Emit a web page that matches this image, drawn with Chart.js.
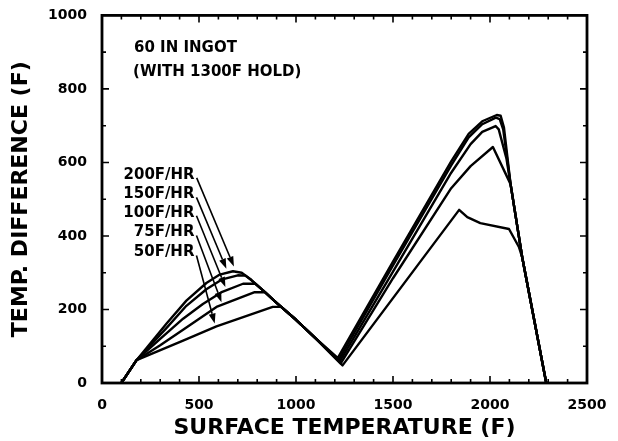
<!DOCTYPE html>
<html>
<head>
<meta charset="utf-8">
<script src="https://cdn.jsdelivr.net/npm/chart.js@4/dist/chart.umd.min.js"></script>
<style>
  body { margin: 0; background: #fff; }
  #tempChart { display: block; }
</style>
</head>
<body>
<canvas id="tempChart" width="618" height="441"></canvas>
<script>
// values: surface temperature (F) vs temp. difference (F)
const rate200Temp = [100, 178, 333, 435, 538, 607, 675, 720, 770, 830, 900, 1000, 1100, 1215, 1500, 1800, 1890, 1960, 2035, 2055, 2072, 2106, 2166, 2290];
const rate200Diff = [0, 62, 162, 224, 272, 295, 304, 300, 280, 252, 218, 172, 122, 68, 330, 603, 678, 712, 729, 727, 695, 541, 342, 0];

const rate150Temp = [100, 178, 333, 435, 538, 620, 700, 740, 770, 830, 900, 1000, 1100, 1220, 1500, 1800, 1890, 1960, 2030, 2050, 2068, 2106, 2166, 2290];
const rate150Diff = [0, 62, 150, 210, 255, 282, 293, 292, 280, 252, 218, 172, 122, 63, 320, 592, 668, 704, 722, 718, 690, 541, 342, 0];

const rate100Temp = [100, 178, 300, 418, 520, 620, 727, 790, 830, 900, 1000, 1100, 1225, 1500, 1800, 1900, 1960, 2029, 2045, 2085, 2106, 2166, 2290];
const rate100Diff = [0, 62, 120, 175, 215, 248, 270, 270, 252, 218, 172, 122, 58, 303, 572, 650, 683, 699, 690, 610, 541, 342, 0];

const rate75Temp = [100, 178, 300, 418, 590, 787, 840, 900, 1000, 1100, 1230, 1500, 1800, 1900, 2015, 2106, 2166, 2290];
const rate75Diff = [0, 62, 103, 145, 207, 247, 247, 218, 172, 122, 53, 285, 530, 590, 642, 541, 342, 0];

const rate50Temp = [100, 178, 418, 590, 880, 924, 1000, 1100, 1240, 1841, 1883, 1950, 2098, 2149, 2166, 2290];
const rate50Diff = [0, 62, 115, 154, 207, 207, 172, 122, 48, 471, 451, 435, 419, 370, 342, 0];

const rateLabels = ['200F/HR', '150F/HR', '100F/HR', '75F/HR', '50F/HR'];
// arrow from label (temp, diff) to the curve (temp, diff)
const arrowFromTemp = [488, 487, 487, 487, 487];
const arrowFromDiff = [558, 505, 455, 401, 347];
const arrowToTemp = [680, 641, 636, 616, 581];
const arrowToDiff = [317, 311, 261, 220, 162];

const noteLines = ['60 IN INGOT', '(WITH 1300F HOLD)'];

const xTickLabels = [0, 500, 1000, 1500, 2000, 2500];
const yTickLabels = [0, 200, 400, 600, 800, 1000];

function pairs(xs, ys) {
  return xs.map((x, i) => ({x: x, y: ys[i]}));
}

const font = "'DejaVu Sans', sans-serif";

function makeSet(label, xs, ys) {
  return {
    label: label,
    data: pairs(xs, ys),
    borderColor: '#000',
    borderWidth: 2.4,
    pointRadius: 0,
    tension: 0,
    fill: false,
    borderJoinStyle: 'round'
  };
}

// box + inward ticks on all four sides
const frameTicks = {
  id: 'frameTicks',
  afterDraw(chart) {
    const ctx = chart.ctx;
    const a = chart.chartArea;
    const x = chart.scales.x, y = chart.scales.y;
    ctx.save();
    ctx.strokeStyle = '#000';
    ctx.lineWidth = 1.6;
    ctx.beginPath();
    for (let v = 100; v < 2500; v += 100) {
      const px = x.getPixelForValue(v);
      const len = v % 500 == 0 ? 7 : 4;
      ctx.moveTo(px, a.bottom); ctx.lineTo(px, a.bottom - len);
      ctx.moveTo(px, a.top); ctx.lineTo(px, a.top + len);
    }
    for (let v = 100; v < 1000; v += 100) {
      const py = y.getPixelForValue(v);
      const len = v % 200 == 0 ? 7 : 4;
      ctx.moveTo(a.left, py); ctx.lineTo(a.left + len, py);
      ctx.moveTo(a.right, py); ctx.lineTo(a.right - len, py);
    }
    ctx.stroke();
    ctx.lineWidth = 2.8;
    ctx.strokeRect(a.left, a.top, a.right - a.left, a.bottom - a.top);
    ctx.restore();
  }
};

// text notes and arrows
const notes = {
  id: 'notes',
  afterDatasetsDraw(chart) {
    const ctx = chart.ctx;
    const x = chart.scales.x, y = chart.scales.y;
    ctx.save();
    ctx.fillStyle = '#000';
    ctx.strokeStyle = '#000';
    ctx.font = 'bold 15px ' + font;
    ctx.textBaseline = 'middle';
    ctx.textAlign = 'left';
    ctx.fillText(noteLines[0], x.getPixelForValue(165), y.getPixelForValue(910));
    ctx.fillText(noteLines[1], x.getPixelForValue(160), y.getPixelForValue(845));

    ctx.font = 'bold 15px ' + font;
    ctx.textAlign = 'right';
    ctx.lineWidth = 1.6;
    for (let i = 0; i < rateLabels.length; i++) {
      const x0 = x.getPixelForValue(arrowFromTemp[i]);
      const y0 = y.getPixelForValue(arrowFromDiff[i]);
      const x1 = x.getPixelForValue(arrowToTemp[i]);
      const y1 = y.getPixelForValue(arrowToDiff[i]);
      ctx.fillText(rateLabels[i], x0 - 2, y0 - 3);
      const ang = Math.atan2(y1 - y0, x1 - x0);
      const hl = 10, hw = 3.5;
      const bx = x1 - hl * Math.cos(ang), by = y1 - hl * Math.sin(ang);
      ctx.beginPath();
      ctx.moveTo(x0, y0);
      ctx.lineTo(bx, by);
      ctx.stroke();
      ctx.beginPath();
      ctx.moveTo(x1, y1);
      ctx.lineTo(bx + hw * Math.sin(ang), by - hw * Math.cos(ang));
      ctx.lineTo(bx - hw * Math.sin(ang), by + hw * Math.cos(ang));
      ctx.closePath();
      ctx.fill();
    }
    ctx.restore();
  }
};

new Chart(document.getElementById('tempChart'), {
  type: 'line',
  data: {
    datasets: [
      makeSet('200F/HR', rate200Temp, rate200Diff),
      makeSet('150F/HR', rate150Temp, rate150Diff),
      makeSet('100F/HR', rate100Temp, rate100Diff),
      makeSet('75F/HR', rate75Temp, rate75Diff),
      makeSet('50F/HR', rate50Temp, rate50Diff)
    ]
  },
  options: {
    responsive: false,
    animation: false,
    layout: { padding: { top: 14, right: 31, left: 0, bottom: 0 } },
    plugins: { legend: { display: false }, tooltip: { enabled: false } },
    scales: {
      x: {
        type: 'linear',
        min: 0, max: 2500,
        afterFit: function(s) { s.height = 58; },
        afterBuildTicks: function(s) { s.ticks = xTickLabels.map(v => ({value: v})); },
        grid: { display: false },
        border: { display: false },
        ticks: {
          color: '#000', padding: 6,
          font: { family: font, size: 14, weight: 'bold' },
          callback: function(v) { return String(v); }
        },
        title: {
          display: true, text: 'SURFACE TEMPERATURE (F)', color: '#000',
          font: { family: font, size: 22, weight: 'bold' }, padding: { top: 0, bottom: 0 }
        }
      },
      y: {
        min: 0, max: 1000,
        afterFit: function(s) { s.width = 102; },
        afterBuildTicks: function(s) { s.ticks = yTickLabels.map(v => ({value: v})); },
        grid: { display: false },
        border: { display: false },
        ticks: {
          color: '#000', padding: 7,
          font: { family: font, size: 14, weight: 'bold' },
          callback: function(v) { return String(v); }
        },
        title: {
          display: true, text: 'TEMP. DIFFERENCE (F)', color: '#000',
          font: { family: font, size: 22, weight: 'bold' }, padding: { top: 8, bottom: 0 }
        }
      }
    }
  },
  plugins: [frameTicks, notes]
});
</script>
</body>
</html>
